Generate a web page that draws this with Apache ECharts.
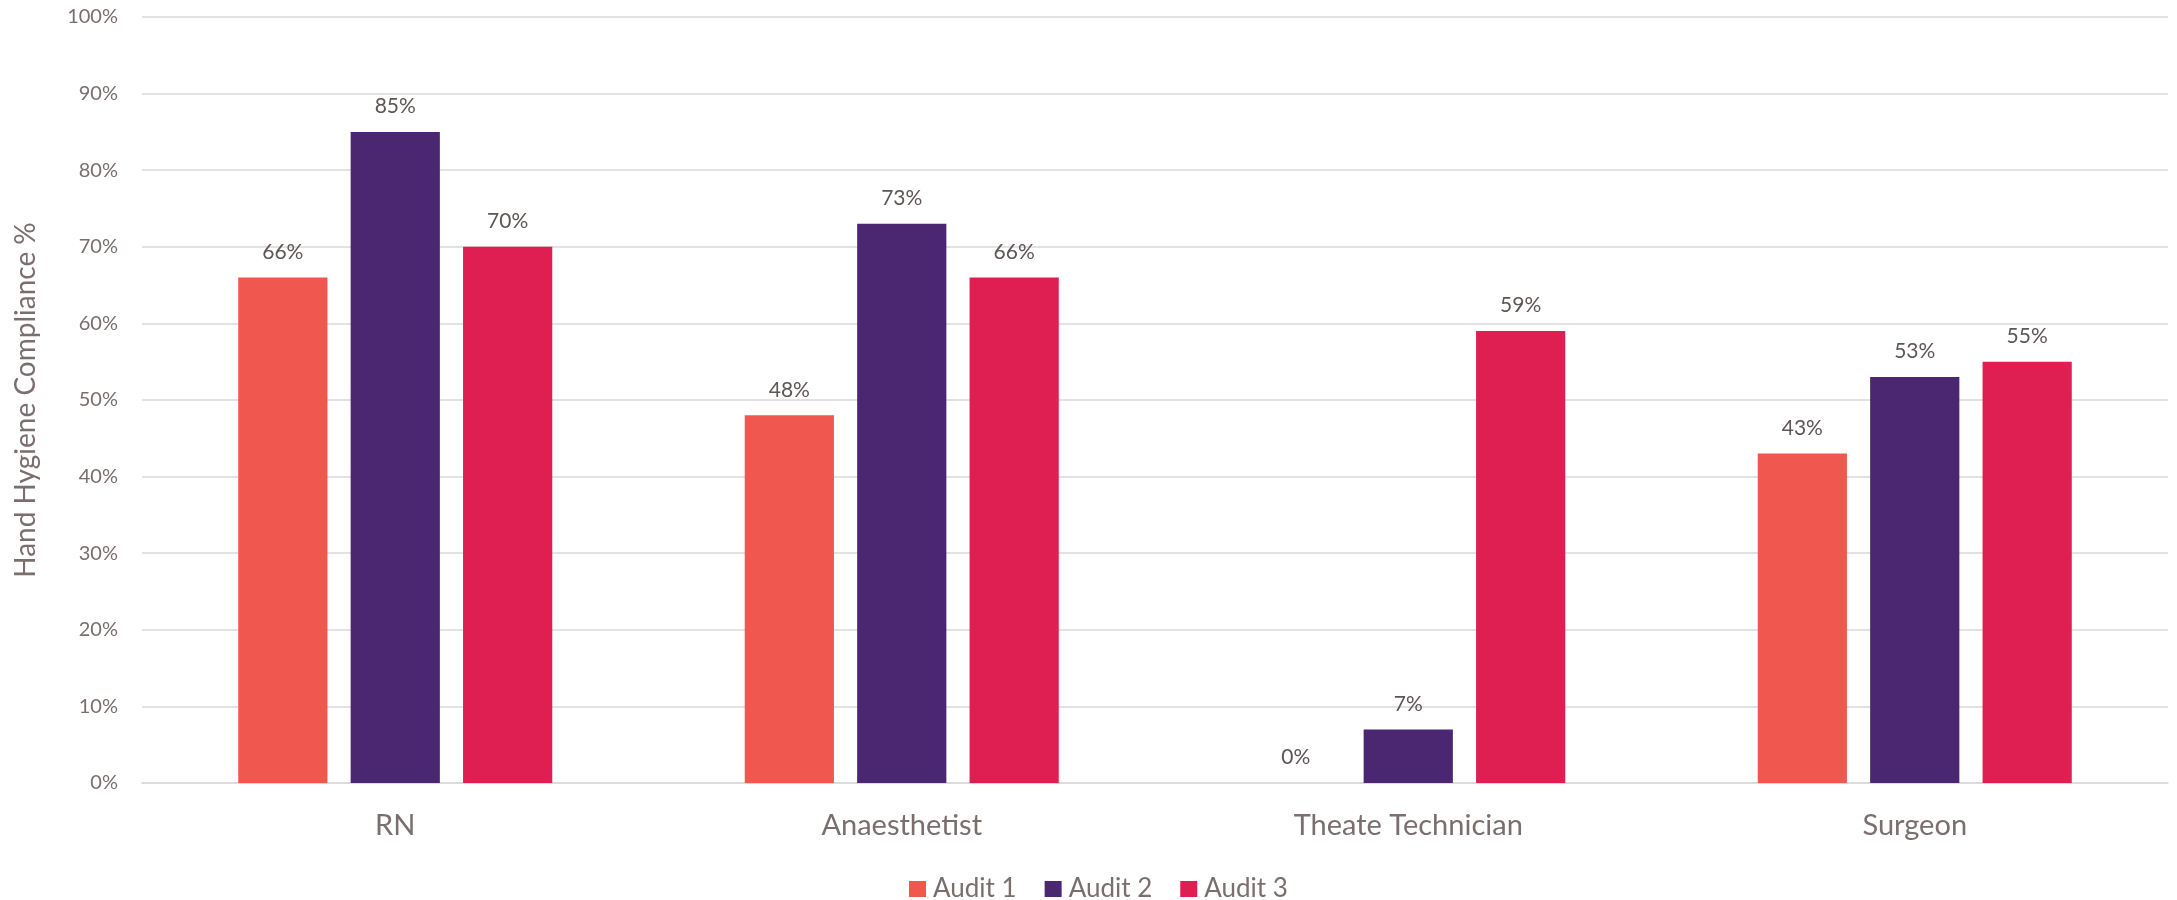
<!DOCTYPE html>
<html>
<head>
<meta charset="utf-8">
<script src="https://cdn.jsdelivr.net/npm/echarts@6/dist/echarts.min.js"></script>
<style>
html,body{margin:0;padding:0;background:#fff;}
#chart{width:2177px;height:900px;}
</style>
</head>
<body>
<div id="chart"></div>
<script>
const categories = ['RN', 'Anaesthetist', 'Theate Technician', 'Surgeon'];
const audit1 = [66, 48, 0, 43];
const audit2 = [85, 73, 7, 53];
const audit3 = [70, 66, 59, 55];
const seriesNames = ['Audit 1', 'Audit 2', 'Audit 3'];
const colors = ['#F0584F', '#4A2770', '#DF1F51'];

const FONT = 'Lato';
const axisColor = '#7a6e6e';
const labelColor = '#5e5555';

function mkSeries(name, data, color) {
  return {
    name: name,
    type: 'bar',
    data: data,
    barGap: '26%',
    barCategoryGap: '38%',
    itemStyle: { color: color },
    label: {
      show: true,
      position: 'top',
      distance: 15,
      formatter: '{c}%',
      fontFamily: FONT,
      fontSize: 21,
      color: labelColor
    }
  };
}

const chart = echarts.init(document.getElementById('chart'), null, { renderer: 'canvas' });
chart.setOption({
  animation: false,
  backgroundColor: '#ffffff',
  color: colors,
  grid: { left: 142, right: 9, top: 17, bottom: 117, containLabel: false },
  legend: {
    top: 871,
    left: 904,
    icon: 'rect',
    itemWidth: 17,
    itemHeight: 16,
    itemGap: 28,
    textStyle: { fontFamily: FONT, fontSize: 26, color: axisColor, padding: [0, 0, 0, 2] },
    data: seriesNames
  },
  xAxis: {
    type: 'category',
    data: categories,
    axisTick: { show: false },
    axisLine: { lineStyle: { color: '#d9d9d9', width: 1.5 } },
    axisLabel: { fontFamily: FONT, fontSize: 29, color: axisColor, margin: 28 }
  },
  yAxis: {
    type: 'value',
    min: 0,
    max: 100,
    interval: 10,
    name: 'Hand Hygiene Compliance %',
    nameLocation: 'middle',
    nameGap: 102,
    nameTextStyle: { fontFamily: FONT, fontSize: 28, color: axisColor },
    axisLabel: { formatter: '{value}%', fontFamily: FONT, fontSize: 20, color: axisColor, margin: 24 },
    axisLine: { show: false },
    axisTick: { show: false },
    splitLine: { lineStyle: { color: '#d9d9d9', width: 1.5 } }
  },
  series: [
    mkSeries(seriesNames[0], audit1, colors[0]),
    mkSeries(seriesNames[1], audit2, colors[1]),
    mkSeries(seriesNames[2], audit3, colors[2])
  ]
});
</script>
</body>
</html>
